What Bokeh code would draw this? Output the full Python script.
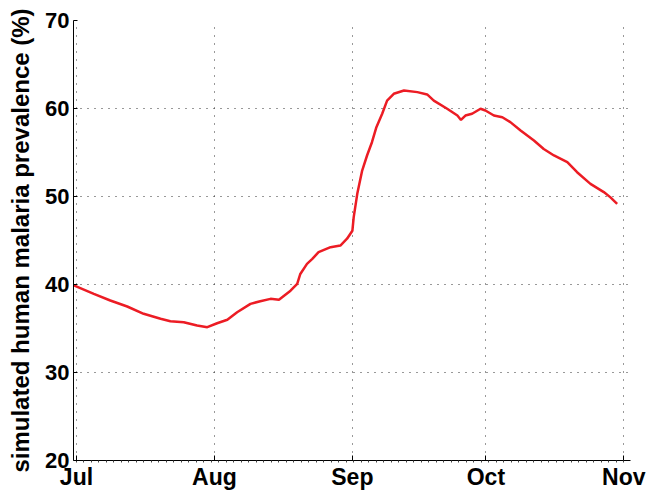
import numpy as np
import pandas as pd
from bokeh.plotting import figure
from bokeh.models import Range1d, FixedTicker, DatetimeTickFormatter
from bokeh.embed import file_html
from bokeh.resources import INLINE

# ---- data ----
start_date = "2013-07-01"
day_offsets = [-0.6, 3.9, 7.6, 11.4, 15.1, 18.9, 21.1, 24.1, 27.1, 29.4, 31.6, 33.9,
               36.1, 39.1, 41.3, 43.6, 45.5, 48.1, 49.6, 50.3, 51.8, 53.0, 54.4,
               57.1, 59.3, 60.8, 62.0, 62.3, 63.1, 64.2, 65.3, 66.4, 67.4, 68.7,
               69.8, 71.3, 73.6, 76.6, 78.8, 80.3, 83.3, 85.6, 86.4, 87.4, 88.9,
               90.8, 91.9, 93.8, 95.7, 97.5, 99.8, 102.8, 105.0, 107.3, 110.3,
               112.5, 115.5, 118.5, 120.0, 121.5]
prevalence = [39.9, 38.94, 38.18, 37.5, 36.67, 36.1, 35.83, 35.72, 35.34, 35.15, 35.6,
              35.99, 36.85, 37.8, 38.1, 38.37, 38.26, 39.3, 40.08, 41.2, 42.35, 42.92,
              43.67, 44.24, 44.43, 45.2, 46.1, 47.65, 50.3, 52.95, 54.66, 56.17, 57.88,
              59.4, 60.9, 61.67, 62.05, 61.86, 61.6, 60.9, 59.97, 59.2, 58.7, 59.2,
              59.4, 59.97, 59.77, 59.2, 59.0, 58.45, 57.5, 56.36, 55.4, 54.66, 53.9,
              52.76, 51.44, 50.5, 49.9, 49.17]
month_ticks = ["2013-07-01", "2013-08-01", "2013-09-01", "2013-10-01", "2013-11-01"]
y_ticks = [20, 30, 40, 50, 60, 70]

# ---- derived ----
t0 = pd.Timestamp(start_date)
xs = [t0 + pd.Timedelta(days=d) for d in day_offsets]
x_start = t0 - pd.Timedelta(days=0.67)
x_end = t0 + pd.Timedelta(days=124.5)

def ms(ts):
    return pd.Timestamp(ts).value / 1e6

major = [ms(t) for t in month_ticks]
minor = list(np.arange(ms(t0), ms(x_end), 1.685 * 86400000.0))

FONT = "Liberation Sans"

p = figure(width=647, height=494, x_axis_type="datetime",
           x_range=Range1d(x_start, x_end), y_range=Range1d(20, 70),
           output_backend="svg", toolbar_location=None,
           min_border_left=73, min_border_right=17, min_border_top=20,
           min_border_bottom=34)
p.outline_line_color = None
p.background_fill_color = "white"
p.border_fill_color = "white"

p.line(xs, prevalence, line_color="#ec1c24", line_width=2.5)

# x axis
p.xaxis.ticker = FixedTicker(ticks=major, minor_ticks=minor)
p.xaxis.formatter = DatetimeTickFormatter(days="%b", months="%b", years="%b",
                                          hours="%b", minutes="%b")
p.xaxis.major_label_text_font = FONT
p.xaxis.major_label_text_font_style = "bold"
p.xaxis.major_label_text_font_size = "23px"
p.xaxis.major_label_text_color = "black"
p.xaxis.major_label_standoff = 1
p.xaxis.major_label_text_line_height = 0.8
p.xaxis.major_tick_in = 5
p.xaxis.major_tick_out = 0
p.xaxis.minor_tick_in = 0
p.xaxis.minor_tick_out = 2
p.xaxis.axis_line_color = "black"
p.xaxis.major_tick_line_color = "black"
p.xaxis.minor_tick_line_color = "#444444"

# y axis
p.yaxis.ticker = FixedTicker(ticks=y_ticks)
p.yaxis.axis_label = "simulated human malaria prevalence (%)"
p.yaxis.axis_label_text_font = FONT
p.yaxis.axis_label_text_font_style = "bold"
p.yaxis.axis_label_text_font_size = "24px"
p.yaxis.axis_label_text_color = "black"
p.yaxis.axis_label_standoff = 8
p.yaxis.major_label_text_font = FONT
p.yaxis.major_label_text_font_style = "bold"
p.yaxis.major_label_text_font_size = "22px"
p.yaxis.major_label_text_color = "black"
p.yaxis.major_label_standoff = 4
p.yaxis.major_tick_in = 4
p.yaxis.major_tick_out = 0
p.yaxis.minor_tick_line_color = None
p.yaxis.axis_line_color = "black"

# grid
p.xgrid.grid_line_color = "#333333"
p.xgrid.grid_line_dash = "1 7"
p.xgrid.grid_line_width = 1
p.ygrid.grid_line_color = "#333333"
p.ygrid.grid_line_dash = "1 6"
p.ygrid.grid_line_width = 1

open("out.html", "w").write(file_html(p, INLINE))
